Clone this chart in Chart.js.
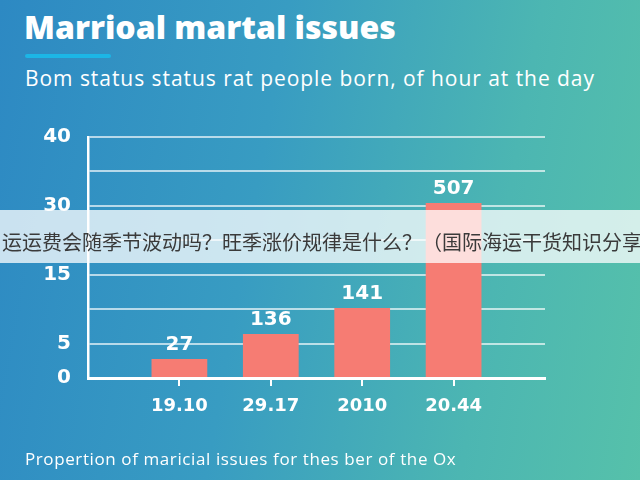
<!DOCTYPE html>
<html>
<head>
<meta charset="utf-8">
<script src="https://cdn.jsdelivr.net/npm/chart.js@4.4.1/dist/chart.umd.min.js"></script>
<style>
    html, body {
        margin: 0;
        padding: 0;
    }
    body {
        width: 640px;
        height: 480px;
        overflow: hidden;
        position: relative;
        background: linear-gradient(100deg, #2d89c3 0%, #389cc2 40%, #4cb6b2 75%, #56c1aa 100%);
        font-family: 'Open Sans', sans-serif;
        color: #fff;
    }
    .title {
        position: absolute;
        left: 24px;
        top: 10px;
        font-size: 32px;
        font-weight: 800;
        line-height: 34px;
        letter-spacing: 0;
        white-space: nowrap;
    }
    .bar-line {
        position: absolute;
        left: 25px;
        top: 54px;
        width: 86px;
        height: 4px;
        background: #1cb6e6;
        border-radius: 2px;
    }
    .subTitle {
        position: absolute;
        left: 25px;
        top: 64px;
        font-size: 21px;
        line-height: 28px;
        letter-spacing: 0.95px;
        white-space: nowrap;
    }
    .footer {
        position: absolute;
        left: 25px;
        top: 447px;
        font-size: 17px;
        line-height: 24px;
        letter-spacing: 0.6px;
        white-space: nowrap;
    }
    .chart {
        position: absolute;
        left: 0;
        top: 0;
        width: 640px;
        height: 480px;
    }
    .banner {
        position: absolute;
        left: 0;
        top: 210px;
        width: 640px;
        height: 53px;
        background: rgba(255, 255, 255, 0.75);
        overflow: hidden;
        white-space: nowrap;
        font-family: 'Noto Sans CJK SC', sans-serif;
        font-size: 20px;
        line-height: 53px;
        color: #3a3a3a;
        padding-left: 2px;
        box-sizing: border-box;
    }
    .banner span {
        position: relative;
        top: 5px;
    }
</style>
</head>
<body>
    <div class="title">Marrioal martal issues</div>
    <div class="bar-line"></div>
    <div class="subTitle">Bom status status rat people born, of hour at the day</div>

    <div class="chart">
        <canvas id="bar-chart" width="640" height="480"></canvas>
    </div>

    <div class="banner"><span>运运费会随季节波动吗？旺季涨价规律是什么？（国际海运干货知识分享</span></div>

    <div class="footer">Propertion of maricial issues for thes ber of the Ox</div>

<script>
// categories on the x axis
const categories = ['19.10', '29.17', '2010', '20.44'];
// bar heights in axis steps (the axis is not linear)
const barHeights = [0.55, 1.28, 2.03, 5.08];
// numbers printed above the bars
const valueLabels = ['27', '136', '141', '507'];
// y tick labels, one per grid step from the bottom
const yTickLabels = ['0', '5', '', '15', '', '30', '', '40'];

// empty slot at each end so the bars sit on the tick marks
const xLabels = [''].concat(categories, ['']);
const xData = [null].concat(barHeights, [null]);

const numFont = 'DejaVu Sans';

const valueLabelPlugin = {
    id: 'valueLabels',
    afterDatasetsDraw(chart) {
        const ctx = chart.ctx;
        const bars = chart.getDatasetMeta(0).data;
        ctx.save();
        ctx.fillStyle = '#ffffff';
        ctx.font = 'bold 20px "' + numFont + '", sans-serif';
        ctx.textAlign = 'center';
        ctx.textBaseline = 'middle';
        for (let i = 0; i < categories.length; i++) {
            const bar = bars[i + 1];
            ctx.fillText(valueLabels[i], bar.x, bar.y - 14);
        }
        ctx.restore();
    },
};

new Chart(document.getElementById('bar-chart'), {
    type: 'bar',
    data: {
        labels: xLabels,
        datasets: [
            {
                label: 'issues',
                data: xData,
                backgroundColor: '#f67c73',
                borderWidth: 0,
                categoryPercentage: 1,
                barPercentage: 0.61,
            },
        ],
    },
    options: {
        responsive: false,
        animation: false,
        layout: {
            padding: { left: 0, top: 137, right: 95, bottom: 62 },
        },
        plugins: {
            legend: { display: false },
            tooltip: { enabled: false },
        },
        scales: {
            x: {
                offset: false,
                afterFit(scale) {
                    scale.height = 40;
                },
                border: { color: '#ffffff', width: 3 },
                grid: {
                    offset: false,
                    drawOnChartArea: false,
                    drawTicks: true,
                    tickLength: 8,
                    lineWidth: 2,
                    tickColor: (c) => (xLabels[c.index] ? '#ffffff' : 'rgba(0,0,0,0)'),
                },
                ticks: {
                    color: '#ffffff',
                    font: { family: numFont, size: 18, weight: 'bold' },
                    padding: 10,
                    autoSkip: false,
                    maxRotation: 0,
                },
            },
            y: {
                min: 0,
                max: 7,
                afterFit(scale) {
                    scale.width = 88;
                },
                border: { color: '#ffffff', width: 2.5 },
                grid: {
                    color: 'rgba(255,255,255,0.65)',
                    lineWidth: 2,
                    drawTicks: false,
                },
                ticks: {
                    stepSize: 1,
                    color: '#ffffff',
                    font: { family: numFont, size: 20, weight: 'bold' },
                    padding: 17,
                    callback: (value) => yTickLabels[value],
                },
            },
        },
    },
    plugins: [valueLabelPlugin],
});
</script>
</body>
</html>
